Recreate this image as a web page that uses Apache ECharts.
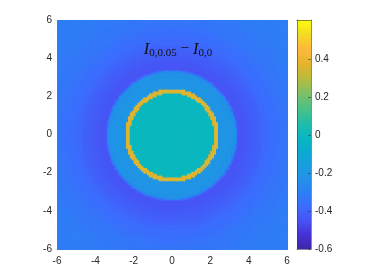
<!DOCTYPE html>
<html>
<head>
<meta charset="utf-8">
<script src="https://cdn.jsdelivr.net/npm/echarts@6/dist/echarts.min.js"></script>
<style>
  html, body { margin: 0; padding: 0; background: #fff; }
  #chart { width: 374px; height: 280px; }
</style>
</head>
<body>
<div id="chart"></div>
<script>
// radial profile: band i covers r < bandOuterR[i], value bandValue[i]
const bandOuterR = [2.2, 2.45, 3.0, 3.3, 3.38, 3.44, 3.75, 4.0, 4.25, 4.5, 4.75, 5.0, 5.25, 5.5, 5.75, 6.0, 6.5, 7.0, 9.0]
const bandValue = [0.0, 0.37, -0.20, -0.21, -0.27, -0.36, -0.44, -0.43, -0.42, -0.41, -0.40, -0.38, -0.37, -0.36, -0.35, -0.34, -0.33, -0.32, -0.31]

// axes
const axisMin = -6
const axisMax = 6
const axisStep = 2
const valueMin = -0.6
const valueMax = 0.61
const colorbarTicks = [-0.6, -0.4, -0.2, 0, 0.2, 0.4]

// parula-ish colormap
const PARULA = [
  '#3e26a8', '#4631d2', '#4852f4', '#3c6cfd', '#2d80f5', '#2391e8', '#19a0de', '#0aaccd',
  '#0ab8be', '#28bea5', '#50c184', '#82c064', '#b9bc3c', '#e6b42d', '#fcb93c', '#f5d728', '#f9fb0e'
]

const CELL = 0.1

function valueAt(r) {
  for (let i = 0; i < bandOuterR.length; i++) {
    if (r < bandOuterR[i]) return bandValue[i]
  }
  return bandValue[bandValue.length - 1]
}

// build image cells
const cells = []
for (let x = axisMin + CELL / 2; x < axisMax; x += CELL) {
  for (let y = axisMin + CELL / 2; y < axisMax; y += CELL) {
    cells.push([x, y, valueAt(Math.sqrt(x * x + y * y))])
  }
}

// colorbar cells
const BAR_CELL = 0.005
const barCells = []
for (let v = valueMin + BAR_CELL / 2; v < valueMax; v += BAR_CELL) {
  barCells.push([0.5, v, v])
}

const chart = echarts.init(document.getElementById('chart'), null, { renderer: 'canvas' })

const tickText = { color: '#262626', fontSize: 10, fontFamily: 'Liberation Sans, Arial, sans-serif' }
const frameLine = { show: true, onZero: false, lineStyle: { color: '#3a3a3a', width: 0.6 } }

const option = {
  animation: false,
  backgroundColor: '#fff',
  grid: [
    { left: 57, top: 20, width: 230, height: 229 },
    { left: 297, top: 20, width: 14, height: 229 }
  ],
  xAxis: [
    {
      gridIndex: 0, type: 'value', min: axisMin, max: axisMax, interval: axisStep,
      axisLine: { show: false }, axisTick: { show: false }, splitLine: { show: false },
      axisLabel: Object.assign({ margin: 7 }, tickText)
    },
    {
      gridIndex: 1, type: 'value', min: 0, max: 1, position: 'bottom', z: 10,
      axisLine: frameLine, axisTick: { show: false }, axisLabel: { show: false }, splitLine: { show: false }
    },
    {
      gridIndex: 1, type: 'value', min: 0, max: 1, position: 'top', z: 10,
      axisLine: frameLine, axisTick: { show: false }, axisLabel: { show: false }, splitLine: { show: false }
    }
  ],
  yAxis: [
    {
      gridIndex: 0, type: 'value', min: axisMin, max: axisMax, interval: axisStep,
      axisLine: { show: false }, axisTick: { show: false }, splitLine: { show: false },
      axisLabel: Object.assign({ margin: 5 }, tickText)
    },
    {
      gridIndex: 1, type: 'value', min: valueMin, max: valueMax,
      position: 'right', z: 10,
      axisLine: frameLine,
      axisTick: {
        show: true, inside: true, length: 3, customValues: colorbarTicks,
        lineStyle: { color: '#3a3a3a', width: 0.6 }
      },
      splitLine: { show: false },
      axisLabel: Object.assign({ margin: 4, customValues: colorbarTicks }, tickText)
    },
    {
      gridIndex: 1, type: 'value', min: valueMin, max: valueMax, position: 'left', z: 10,
      axisLine: frameLine, axisTick: { show: false }, axisLabel: { show: false }, splitLine: { show: false }
    }
  ],
  visualMap: {
    show: false,
    type: 'continuous',
    min: valueMin,
    max: valueMax,
    dimension: 2,
    seriesIndex: [0, 1],
    inRange: { color: PARULA }
  },
  graphic: [
    {
      type: 'text',
      x: 178,
      y: 50,
      z: 100,
      style: {
        text: '{i|I}{s|0,0.05}{m| − }{i|I}{s|0,0}',
        align: 'center',
        verticalAlign: 'middle',
        fill: '#111',
        rich: {
          i: { fontSize: 16.5, fontStyle: 'italic', fontFamily: 'Liberation Serif, serif', lineHeight: 18, verticalAlign: 'top', fill: '#111' },
          s: { fontSize: 11, fontFamily: 'Liberation Serif, serif', lineHeight: 12, verticalAlign: 'bottom', fill: '#111' },
          m: { fontSize: 15.5, fontFamily: 'Liberation Serif, serif', lineHeight: 18, verticalAlign: 'top', fill: '#111' }
        }
      }
    }
  ],
  series: [
    {
      type: 'custom',
      xAxisIndex: 0,
      yAxisIndex: 0,
      clip: true,
      silent: true,
      renderItem: function (params, api) {
        const p = api.coord([api.value(0) - CELL / 2, api.value(1) + CELL / 2])
        const s = api.size([CELL, CELL])
        return {
          type: 'rect',
          shape: { x: p[0], y: p[1], width: s[0] + 1, height: s[1] + 1 },
          style: { fill: api.visual('color') }
        }
      },
      data: cells
    },
    {
      type: 'custom',
      xAxisIndex: 1,
      yAxisIndex: 1,
      clip: true,
      silent: true,
      renderItem: function (params, api) {
        const p = api.coord([0, api.value(1) + BAR_CELL / 2])
        const s = api.size([1, BAR_CELL])
        return {
          type: 'rect',
          shape: { x: p[0], y: p[1], width: s[0], height: s[1] + 1 },
          style: { fill: api.visual('color') }
        }
      },
      data: barCells
    }
  ]
}

chart.setOption(option)
</script>
</body>
</html>
